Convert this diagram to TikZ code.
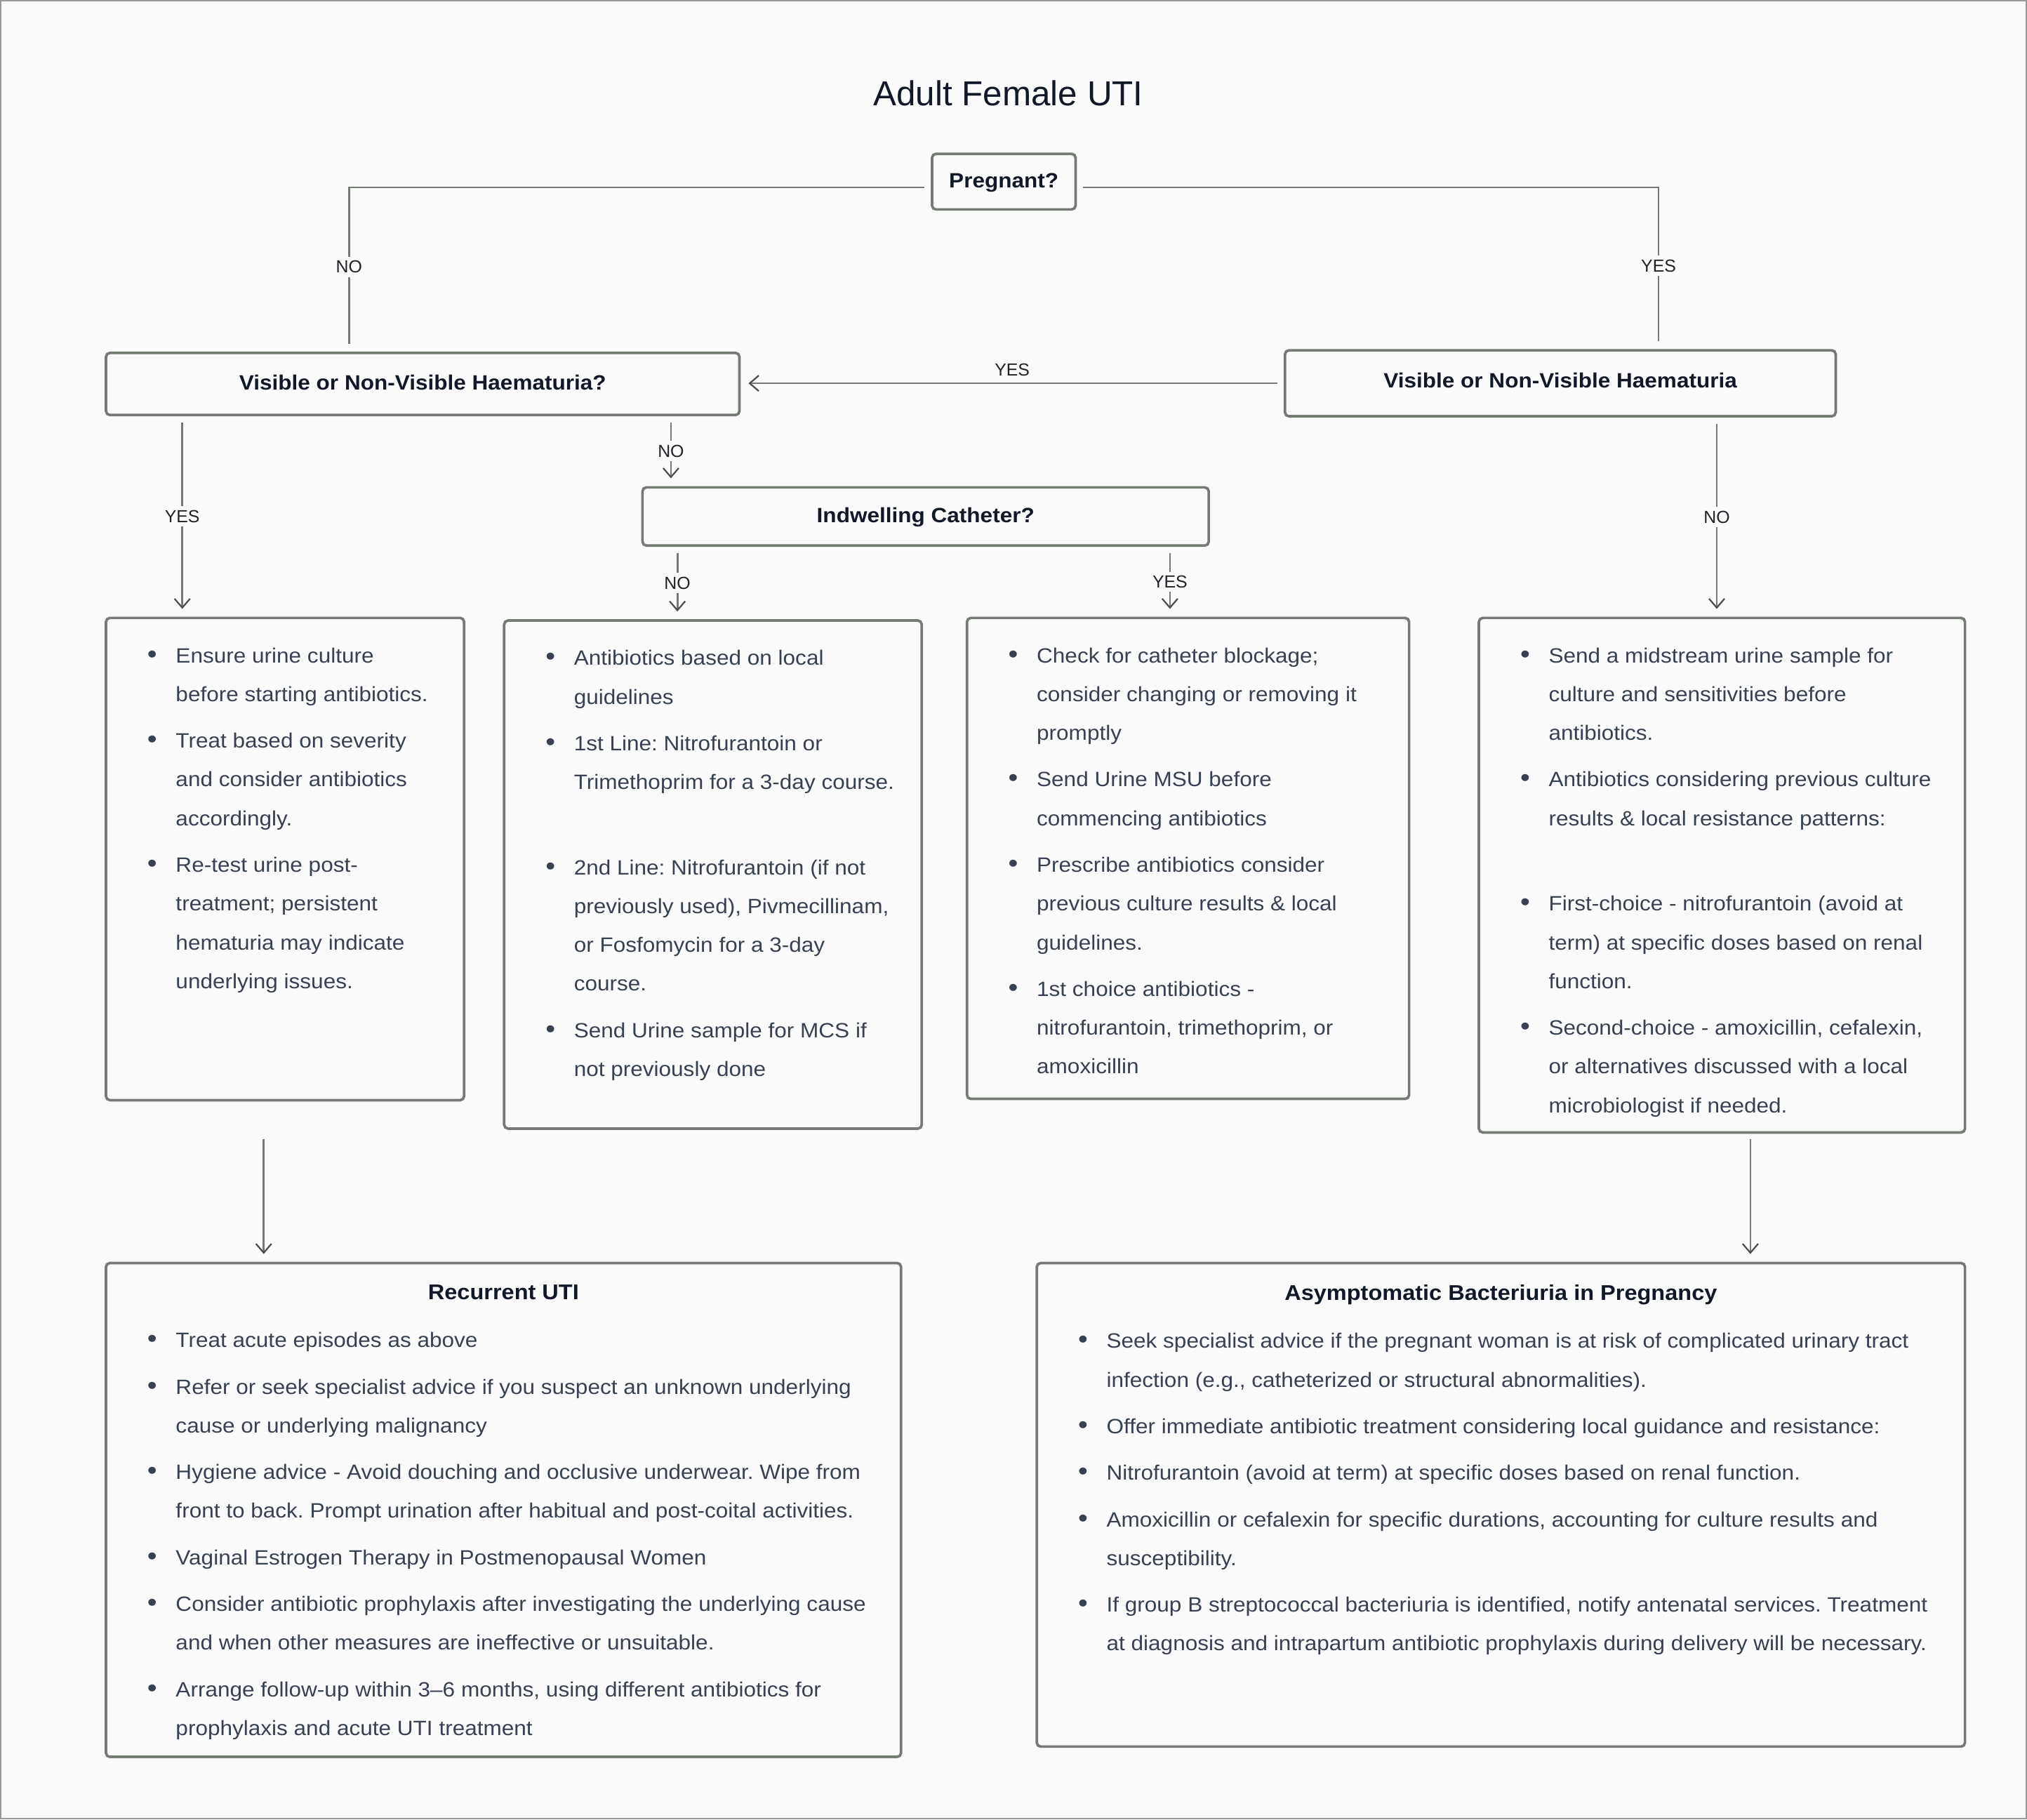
\documentclass[tikz,border=0pt]{standalone}
\usepackage{fontspec}
\setmainfont{Liberation Sans}
\newfontfamily\bodyfont{Liberation Sans}[FakeStretch=1.07]
\usetikzlibrary{arrows.meta}
\definecolor{bgc}{HTML}{FAFAFA}
\definecolor{linec}{HTML}{737B73}
\definecolor{headc}{HTML}{111827}
\definecolor{bodyc}{HTML}{374151}
\definecolor{labc}{HTML}{1F2328}
\frenchspacing
\newcommand{\bodysize}{\bodyfont\fontsize{16}{30}\selectfont\frenchspacing}
\newcommand{\bitem}[1]{\par\noindent\hangindent=22pt\hangafter=1\makebox[22pt][l]{\scalebox{1.25}{\textbullet}}#1\par}
\newcommand{\gapline}{\vspace{30pt}}
\newcommand{\listbody}[3]{\makebox[#1][l]{\parbox[t][#2][t]{60em}{\setlength{\parskip}{6pt}\setlength{\parindent}{0pt}#3}}}
\newcommand{\boxhead}[2]{\noindent\makebox[#1][c]{\fontsize{16.5}{30}\selectfont\bfseries\color{headc}#2}\par\vspace{1pt}}
\tikzset{
	headtext/.style={text=headc, inner sep=0pt, font=\fontsize{26.8}{30}\selectfont},
	decision/.style={draw=linec, line width=2pt, rounded corners=3pt, fill=bgc, text=headc, inner sep=2pt, outer sep=0pt, text height=11.5pt, text depth=2.5pt, font=\bodyfont\fontsize{16}{20}\selectfont\bfseries},
	listbox/.style={draw=linec, line width=2pt, rounded corners=3pt, fill=bgc, text=bodyc, anchor=north west, inner xsep=32pt, inner ysep=23pt, outer sep=0pt, font=\bodysize},
	lbl/.style={fill=bgc, text=labc, inner sep=3pt, font=\fontsize{13.5}{16}\selectfont},
	arr/.style={-{Straight Barb[length=7pt, width=12pt, line width=1.2pt, color=black!70]}},
}

\begin{document}
\begin{tikzpicture}[x=1pt, y=-1pt]
		\useasboundingbox (0,0) rectangle (1568,1407.3);
		\draw[fill=bgc, draw=black!40, line width=1pt] (0.5,0.5) rectangle (1567.5,1406.8);
		
		\node (title) [headtext] at (780,72) {Adult Female UTI};
		\node (preg) [decision, minimum width=111pt, minimum height=43pt] at (776.5,140.5) {Pregnant?};
		\node (hq) [decision, minimum width=490pt, minimum height=48pt] at (327,297) {Visible or Non-Visible Haematuria?};
		\node (hr) [decision, minimum width=426pt, minimum height=51pt, text depth=5pt] at (1207,296.5) {Visible or Non-Visible Haematuria};
		\node (ind) [decision, minimum width=438pt, minimum height=45pt] at (716,399.5) {Indwelling Catheter?};
		
		\node (na) [listbox] at (82,478) {\listbody{213pt}{327pt}{%
			\bitem{Ensure urine culture\\before starting antibiotics.}
			\bitem{Treat based on severity\\and consider antibiotics\\accordingly.}
			\bitem{Re-test urine post-\\treatment; persistent\\hematuria may indicate\\underlying issues.}}};
		\node (nb) [listbox] at (390,480) {\listbody{259pt}{347pt}{%
			\bitem{Antibiotics based on local\\guidelines}
			\bitem{1st Line: Nitrofurantoin or\\Trimethoprim for a 3-day course.}
			\gapline
			\bitem{2nd Line: Nitrofurantoin (if not\\previously used), Pivmecillinam,\\or Fosfomycin for a 3-day\\course.}
			\bitem{Send Urine sample for MCS if\\not previously done}}};
		\node (nc) [listbox] at (748,478) {\listbody{278pt}{326pt}{%
			\bitem{Check for catheter blockage;\\consider changing or removing it\\promptly}
			\bitem{Send Urine MSU before\\commencing antibiotics}
			\bitem{Prescribe antibiotics consider\\previous culture results \& local\\guidelines.}
			\bitem{1st choice antibiotics -\\nitrofurantoin, trimethoprim, or\\amoxicillin}}};
		\node (nd) [listbox] at (1144,478) {\listbody{312pt}{352pt}{%
			\bitem{Send a midstream urine sample for\\culture and sensitivities before\\antibiotics.}
			\bitem{Antibiotics considering previous culture\\results \& local resistance patterns:}
			\gapline
			\bitem{First-choice - nitrofurantoin (avoid at\\term) at specific doses based on renal\\function.}
			\bitem{Second-choice - amoxicillin, cefalexin,\\or alternatives discussed with a local\\microbiologist if needed.}}};
		
		\node (rec) [listbox, inner ysep=17pt] at (82,977) {\listbody{551pt}{348pt}{%
			\boxhead{551pt}{Recurrent UTI}
			\bitem{Treat acute episodes as above}
			\bitem{Refer or seek specialist advice if you suspect an unknown underlying\\cause or underlying malignancy}
			\bitem{Hygiene advice - Avoid douching and occlusive underwear. Wipe from\\front to back. Prompt urination after habitual and post-coital activities.}
			\bitem{Vaginal Estrogen Therapy in Postmenopausal Women}
			\bitem{Consider antibiotic prophylaxis after investigating the underlying cause\\and when other measures are ineffective or unsuitable.}
			\bitem{Arrange follow-up within 3–6 months, using different antibiotics for\\prophylaxis and acute UTI treatment}}};
		\node (asym) [listbox, inner ysep=17pt] at (802,977) {\listbody{654pt}{340pt}{%
			\boxhead{654pt}{Asymptomatic Bacteriuria in Pregnancy}
			\bitem{Seek specialist advice if the pregnant woman is at risk of complicated urinary tract\\infection (e.g., catheterized or structural abnormalities).}
			\bitem{Offer immediate antibiotic treatment considering local guidance and resistance:}
			\bitem{Nitrofurantoin (avoid at term) at specific doses based on renal function.}
			\bitem{Amoxicillin or cefalexin for specific durations, accounting for culture results and\\susceptibility.}
			\bitem{If group B streptococcal bacteriuria is identified, notify antenatal services. Treatment\\at diagnosis and intrapartum antibiotic prophylaxis during delivery will be necessary.}}};
		
		\begin{scope}[linec, line width=1.5pt, shorten <=6pt, shorten >=7pt]
			
			\draw ([yshift=-4.5pt]preg.west) -| node[lbl, pos=0.74] {NO} ([xshift=-57pt]hq.north);
			\draw ([yshift=-4.5pt]preg.east) -| node[lbl, pos=0.74] {YES} ([xshift=76pt]hr.north);
			\draw[arr] (hr.west) -- (hr.west -| hq.east) node[lbl, midway, above=2pt] {YES};
			\draw[arr] ([xshift=-186pt]hq.south) -- ([xshift=-186pt]hq.south |- na.north) node[lbl, midway] {YES};
			\draw[arr] ([xshift=192pt]hq.south) -- ([xshift=192pt]hq.south |- ind.north) node[lbl, midway] {NO};
			\draw[arr] ([xshift=-192pt]ind.south) -- ([xshift=-192pt]ind.south |- nb.north) node[lbl, midway] {NO};
			\draw[arr] ([xshift=189pt]ind.south) -- ([xshift=189pt]ind.south |- nc.north) node[lbl, midway] {YES};
			\draw[arr] ([xshift=121pt]hr.south) -- ([xshift=121pt]hr.south |- nd.north) node[lbl, midway] {NO};
			\draw[arr, shorten <=30pt] ([xshift=-16.5pt]na.south) -- ([xshift=-16.5pt]na.south |- rec.north);
			\draw[arr, shorten <=5pt] ([xshift=22pt]nd.south) -- ([xshift=22pt]nd.south |- asym.north);
			
		\end{scope}
		
	\end{tikzpicture}
\end{document}
